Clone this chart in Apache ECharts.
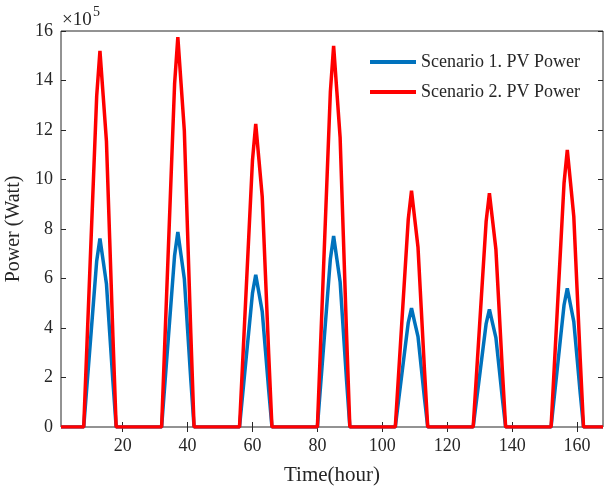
<!DOCTYPE html>
<html>
<head>
<meta charset="utf-8">
<script src="https://cdn.jsdelivr.net/npm/echarts@6/dist/echarts.min.js"></script>
<style>
  html, body { margin: 0; padding: 0; background: #fff; }
  #chart { width: 605px; height: 488px; }
</style>
</head>
<body>
<div id="chart"></div>
<script>
// hours of the week, 1..168; daylight values listed for hours 9..17 of each day (x10^5 W)
const daylightHours = [9, 10, 11, 12, 13, 14, 15, 16, 17];

const scenario1Days = [
  [1.68, 3.35, 5.03, 6.71, 7.62, 6.71, 5.79, 3.81, 1.83],
  [1.73, 3.47, 5.20, 6.93, 7.88, 6.93, 5.99, 3.94, 1.89],
  [1.35, 2.71, 4.06, 5.41, 6.15, 5.41, 4.67, 3.08, 1.48],
  [1.70, 3.40, 5.10, 6.79, 7.72, 6.79, 5.87, 3.86, 1.85],
  [1.06, 2.11, 3.17, 4.22, 4.80, 4.22, 3.65, 2.40, 1.15],
  [1.05, 2.09, 3.14, 4.18, 4.75, 4.18, 3.61, 2.38, 1.14],
  [1.23, 2.46, 3.70, 4.93, 5.60, 4.93, 4.26, 2.80, 1.34]
];

const scenario2Days = [
  [3.34, 6.69, 10.03, 13.38, 15.20, 13.38, 11.55, 7.60, 3.65],
  [3.47, 6.93, 10.40, 13.86, 15.75, 13.86, 11.97, 7.88, 3.78],
  [2.70, 5.39, 8.09, 10.78, 12.25, 10.78, 9.31, 6.13, 2.94],
  [3.39, 6.78, 10.16, 13.55, 15.40, 13.55, 11.70, 7.70, 3.70],
  [2.10, 4.20, 6.30, 8.40, 9.55, 8.40, 7.26, 4.78, 2.29],
  [2.08, 4.16, 6.24, 8.32, 9.45, 8.32, 7.18, 4.73, 2.27],
  [2.46, 4.93, 7.39, 9.86, 11.20, 9.86, 8.51, 5.60, 2.69]
];

const xTicks = [20, 40, 60, 80, 100, 120, 140, 160];
const seriesNames = ['Scenario 1. PV Power', 'Scenario 2. PV Power'];

// place the daylight values on the hourly time line, night hours are zero
function buildSeries(days) {
  const out = [];
  for (let t = 1; t <= 168; t++) {
    const d = Math.floor((t - 1) / 24);
    const h = t - 24 * d;
    const idx = daylightHours.indexOf(h);
    out.push([t, idx >= 0 ? days[d][idx] : 0]);
  }
  return out;
}

const font = 'Liberation Serif, Times New Roman, serif';
const ink = '#262626';

const chart = echarts.init(document.getElementById('chart'));

const tickStyle = { show: true, inside: true, length: 5, lineStyle: { color: ink, width: 1 } };

chart.setOption({
  animation: false,
  backgroundColor: '#fff',
  grid: {
    left: 61, right: 2, top: 31, bottom: 61,
    containLabel: false,
    outerBoundsMode: 'none',
    show: true, borderColor: ink, borderWidth: 1, backgroundColor: 'transparent'
  },
  legend: {
    orient: 'vertical',
    left: 370,
    top: 52,
    padding: 0,
    itemGap: 10,
    itemWidth: 46,
    itemHeight: 4,
    icon: 'rect',
    data: seriesNames,
    textStyle: { fontFamily: font, fontSize: 18, color: ink, lineHeight: 20 }
  },
  xAxis: [{
    type: 'value',
    min: 1,
    max: 168,
    name: 'Time(hour)',
    nameLocation: 'middle',
    nameGap: 38,
    nameTextStyle: { fontFamily: font, fontSize: 21, color: ink },
    axisLine: { show: false },
    axisTick: Object.assign({ customValues: xTicks }, tickStyle),
    axisLabel: { customValues: xTicks, fontFamily: font, fontSize: 18, color: ink, margin: 10 },
    splitLine: { show: false }
  }, {
    type: 'value',
    position: 'top',
    min: 1,
    max: 168,
    axisLine: { show: false },
    axisTick: Object.assign({ customValues: xTicks }, tickStyle),
    axisLabel: { show: false },
    splitLine: { show: false }
  }],
  yAxis: [{
    type: 'value',
    min: 0,
    max: 16,
    interval: 2,
    name: 'Power (Watt)',
    nameLocation: 'middle',
    nameGap: 35,
    nameTextStyle: { fontFamily: font, fontSize: 20, color: ink },
    axisLine: { show: false },
    axisTick: tickStyle,
    axisLabel: { fontFamily: font, fontSize: 18, color: ink, margin: 8 },
    splitLine: { show: false }
  }, {
    type: 'value',
    position: 'right',
    min: 0,
    max: 16,
    interval: 2,
    axisLine: { show: false },
    axisTick: tickStyle,
    axisLabel: { show: false },
    splitLine: { show: false }
  }],
  graphic: [
    { type: 'text', left: 62, top: 11, style: { text: '\u00d710', font: '19px ' + font, fill: ink } },
    { type: 'text', left: 93, top: 5, style: { text: '5', font: '14px ' + font, fill: ink } }
  ],
  series: [{
    name: seriesNames[0],
    type: 'line',
    data: buildSeries(scenario1Days),
    showSymbol: false,
    color: '#0072BD',
    lineStyle: { width: 3.5, color: '#0072BD' }
  }, {
    name: seriesNames[1],
    type: 'line',
    data: buildSeries(scenario2Days),
    showSymbol: false,
    color: '#FF0000',
    lineStyle: { width: 3.5, color: '#FF0000' }
  }]
});
</script>
</body>
</html>
